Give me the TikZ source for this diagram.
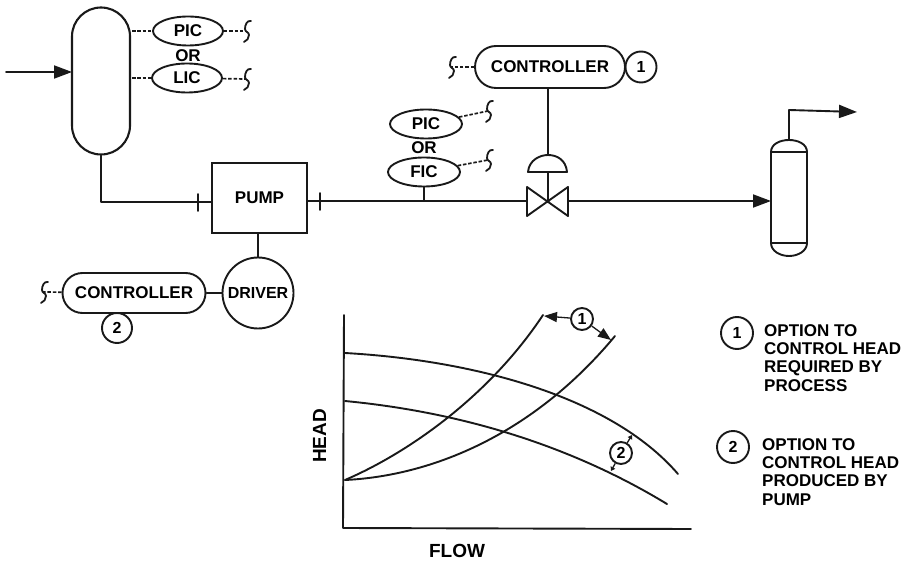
\documentclass[tikz,border=0pt]{standalone}
\usepackage{fontspec}
\setmainfont{Liberation Sans}
\usetikzlibrary{arrows.meta,shapes.geometric,shapes.misc}
\tikzset{
  x=1pt,y=-1pt,
  lbl/.style={inner sep=0pt,font=\fontsize{17}{17}\selectfont\bfseries},
  biglbl/.style={inner sep=0pt,font=\fontsize{19}{19}\selectfont\bfseries},
  pipe/.style={line width=1.9pt,line cap=round,line join=round,black!90},
  thin pipe/.style={line width=1.3pt,black!90},
  sig/.style={line width=1.7pt,dash pattern=on 3.5pt off 1.8pt,black!90},
  flow/.style={pipe,-{Triangle[length=18pt,width=13pt]}},
  instr/.style={ellipse,draw=black!90,line width=1.9pt,inner sep=0pt,minimum width=70pt,minimum height=29pt,font=\fontsize{17}{17}\selectfont\bfseries},
  ctrl/.style={rounded rectangle,draw=black!90,line width=1.9pt,inner sep=0pt,font=\fontsize{17}{17}\selectfont\bfseries},
  num/.style={circle,draw=black!90,line width=1.9pt,inner sep=0pt,fill=white,font=\fontsize{16}{16}\selectfont\bfseries},
  curve/.style={line width=1.9pt,black!90,line cap=round},
}
\newcommand{\squig}[1]{\draw[shift={#1},line width=1.8pt,black!90,line cap=round] (5,-10) .. controls (1,-11) and (-1,-6) .. (-1,-2) .. controls (-1,1) and (3,1) .. (3,4) .. controls (3,7) and (1,10) .. (-2,11);}
\begin{document}
\begin{tikzpicture}
\useasboundingbox (0,0) rectangle (907,561);
% vessel
\node[rounded rectangle,rotate=90,draw=black!90,line width=2.1pt,minimum width=147pt,minimum height=58pt,inner sep=0pt] (vessel) at (101,81) {};
\coordinate (feed) at (6,72);
\coordinate (vin) at (72,72);
\draw[flow] (feed) -- (vin);
% pump
\node[draw=black!90,line width=2pt,minimum width=95pt,minimum height=70pt,inner sep=0pt,lbl] (pump) at (259.5,198) {PUMP};
\coordinate (vcorner) at (101,202);
\draw[pipe] (vessel.west) -- (vcorner) -- (vcorner -| pump.west);
\coordinate (t1a) at (198,194); \coordinate (t1b) at (198,211);
\draw[pipe] (t1a) -- (t1b);
\coordinate (t2a) at (320,193); \coordinate (t2b) at (320,210);
\draw[pipe] (t2a) -- (t2b);
% vessel instruments
\node[instr] (pic1) at (188,31) {PIC};
\node[lbl] (or1) at (188,56) {OR};
\node[instr] (lic1) at (187,78) {LIC};
\coordinate (s1) at (246,31); \coordinate (s2) at (246,79);
\coordinate (v1) at (132,31); \coordinate (v2) at (132,78);
\draw[sig] (v1) -- (pic1); \draw[sig] (v2) -- (lic1);
\draw[sig] (pic1) -- (s1); \draw[sig] (lic1) -- (s2);
\squig{(s1)} \squig{(s2)}
% valve
\coordinate (vc) at (548,201);
\coordinate (vl) at (527,201); \coordinate (vr) at (568,201);
\draw[pipe] (527,187) -- (568,216) -- (568,187) -- (527,216) -- cycle;
\draw[pipe] (pump.east |- vl) -- (vl);
% column
\coordinate (cwest) at (771,201);
\draw[pipe] (771,152) .. controls (771,144) and (780,140) .. (789,140) .. controls (798,140) and (807,144) .. (807,152) -- (807,243) .. controls (807,251) and (798,256) .. (789,256) .. controls (780,256) and (771,251) .. (771,243) -- cycle;
\draw[pipe] (771,152) -- (807,152);
\draw[pipe] (771,243) -- (807,243);
\draw[flow] (vr) -- (cwest);
\coordinate (ctop) at (789,140); \coordinate (cup) at (789,110); \coordinate (cout) at (857,112);
\draw[flow] (ctop) -- (cup) -- (cout);
% controller 1
\node[ctrl,minimum width=150pt,minimum height=42pt] (c1) at (550,67) {CONTROLLER};
\node[num,minimum size=31pt] (n1) at (641,67) {1};
\coordinate (act) at (548,155);
\draw[pipe] (c1.south -| act) -- (act);
\draw[pipe,fill=white] (528,172) .. controls (529,160) and (540,155) .. (548,155) .. controls (557,155) and (566,160) .. (567,172) -- cycle;
\draw[pipe] (548,172) -- (vc);
\coordinate (s3) at (451,67);
\draw[sig] (c1) -- (s3);
\squig{(s3)}
% line instruments
\node[instr,minimum width=72pt] (pic2) at (426,124) {PIC};
\node[lbl] (or2) at (424,148) {OR};
\node[instr,minimum width=72pt] (fic) at (424,172) {FIC};
\coordinate (ftap) at (424,201);
\draw[pipe] (fic) -- (ftap);
\coordinate (s4) at (488,111); \coordinate (s5) at (488,160);
\draw[sig] (pic2) -- (s4); \draw[sig] (fic) -- (s5);
\squig{(s4)} \squig{(s5)}
% driver
\node[circle,draw=black!90,line width=1.9pt,minimum size=71pt,inner sep=0pt,font=\fontsize{16}{16}\selectfont\bfseries] (drv) at (258,293) {DRIVER};
\draw[pipe] (pump.south -| drv) -- (drv);
\node[ctrl,minimum width=143pt,minimum height=40pt] (c2) at (134,293) {CONTROLLER};
\draw[pipe] (c2) -- (drv);
\node[num,minimum size=30pt] (n2) at (117,328) {2};
\coordinate (s6) at (43,292);
\draw[sig] (c2) -- (s6);
\squig{(s6)}
% chart
\coordinate (top) at (344,315); \coordinate (org) at (343,528); \coordinate (rgt) at (691,529);
\draw[pipe] (top) -- (org) -- (rgt);
\draw[curve] (345,353) .. controls (470,360) and (610,395) .. (678,474);
\draw[curve] (345,401) .. controls (460,412) and (570,445) .. (667,504);
\draw[curve] (345,480) .. controls (410,452) and (490,395) .. (543,315);
\draw[curve] (345,480) .. controls (430,476) and (532,436) .. (615,336);
\node[num,minimum size=22pt] (n3) at (582,319) {1};
\node[num,minimum size=22pt] (n4) at (621,453) {2};
\coordinate (e1) at (544,316); \coordinate (e2) at (611,340); \coordinate (e3) at (632,435); \coordinate (e4) at (611,471);
\draw[thin pipe,-{Triangle[length=13pt,width=10pt]}] (n3) -- (e1);
\draw[thin pipe,-{Triangle[length=13pt,width=10pt]}] (n3) -- (e2);
\draw[thin pipe,-{Triangle[length=4pt,width=5pt]}] (n4) -- (e3);
\draw[thin pipe,-{Triangle[length=4pt,width=5pt]}] (n4) -- (e4);
\node[biglbl,rotate=90] (head) at (319.5,436) {HEAD};
\node[biglbl] (flowl) at (457,551) {FLOW};
% legend
\node[num,minimum size=32pt] (l1) at (737,333) {1};
\node[num,minimum size=32pt] (l2) at (733,447) {2};
\node[lbl,anchor=north west,align=left,font=\fontsize{17}{18.4}\selectfont\bfseries] (t1) at (764,324) {OPTION TO\\CONTROL HEAD\\REQUIRED BY\\PROCESS};
\node[lbl,anchor=north west,align=left,font=\fontsize{17}{18.4}\selectfont\bfseries] (t2) at (762,438) {OPTION TO\\CONTROL HEAD\\PRODUCED BY\\PUMP};
\end{tikzpicture}
\end{document}
